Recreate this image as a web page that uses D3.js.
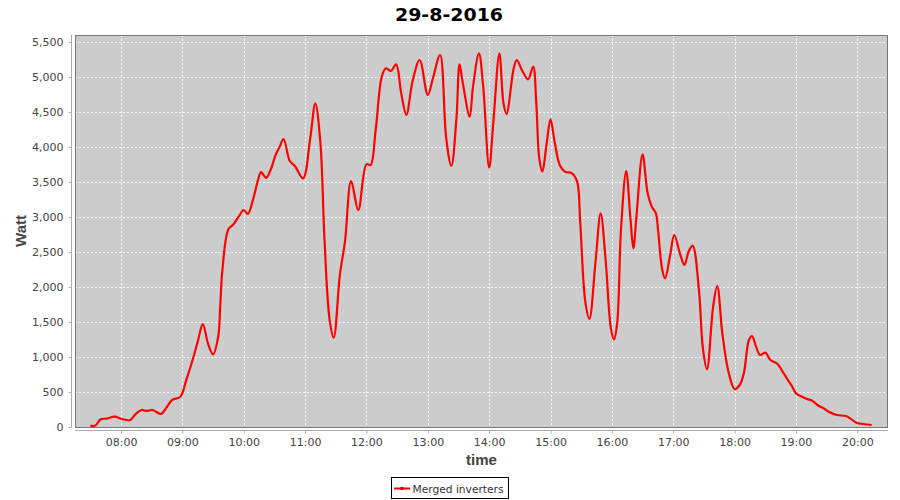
<!DOCTYPE html>
<html>
<head>
<meta charset="utf-8">
<script src="https://cdn.jsdelivr.net/npm/d3@7"></script>
<style>
  html, body { margin: 0; padding: 0; background: #ffffff; }
  svg { display: block; }
</style>
</head>
<body>
<svg id="chart" width="900" height="500"></svg>
<script>
const chartTitle = "29-8-2016";
const seriesName = "Merged inverters";
const xTitle = "time";
const yTitle = "Watt";
const yTicks = [0, 500, 1000, 1500, 2000, 2500, 3000, 3500, 4000, 4500, 5000, 5500];
const times = ["07:30","07:35","07:40","07:46","07:54","08:01","08:09","08:14","08:20","08:25","08:31","08:39","08:45","08:50","08:58","09:04","09:10","09:15","09:20","09:25","09:30","09:35","09:37","09:39","09:45","09:50","09:55","10:00","10:04","10:09","10:14","10:17","10:22","10:27","10:31","10:35","10:39","10:45","10:50","10:58","11:05","11:10","11:15","11:19","11:24","11:28","11:34","11:39","11:45","11:52","12:00","12:04","12:09","12:15","12:19","12:24","12:29","12:34","12:39","12:45","12:52","13:00","13:05","13:12","13:18","13:23","13:28","13:31","13:34","13:41","13:44","13:50","13:54","14:00","14:04","14:10","14:14","14:17","14:24","14:27","14:32","14:38","14:43","14:46","14:49","14:52","14:56","15:00","15:04","15:09","15:14","15:21","15:26","15:29","15:34","15:38","15:44","15:49","15:54","15:59","16:02","16:05","16:09","16:14","16:18","16:21","16:24","16:30","16:35","16:39","16:43","16:45","16:49","16:52","16:57","17:01","17:07","17:11","17:15","17:19","17:25","17:29","17:33","17:39","17:43","17:48","17:54","18:00","18:05","18:09","18:14","18:17","18:21","18:25","18:30","18:35","18:42","18:46","18:51","18:56","19:00","19:06","19:12","19:16","19:21","19:27","19:33","19:40","19:49","19:53","19:59","20:06","20:14"];
const watts = [20,20,110,120,147,114,100,181,243,229,243,186,290,386,433,681,957,1219,1471,1195,1038,1290,1719,2219,2824,2896,3004,3100,3043,3243,3529,3640,3560,3700,3880,4000,4114,3800,3729,3552,4124,4624,4053,2671,1529,1276,2171,2647,3514,3100,3753,3743,4243,5005,5124,5086,5181,4767,4457,4933,5243,4743,4981,5314,4124,3729,4410,5181,4933,4433,4838,5338,4886,3705,4338,5338,4624,4471,5124,5243,5100,4967,5148,4648,3838,3648,4029,4395,4076,3743,3648,3624,3505,2933,1790,1543,2362,3052,2362,1410,1252,1457,2848,3657,3004,2552,3004,3895,3338,3148,3052,2838,2267,2124,2457,2743,2457,2314,2505,2590,1981,1124,824,1719,2014,1338,790,543,600,767,1243,1300,1148,1029,1062,957,900,814,695,586,481,433,395,376,314,267,210,171,157,124,62,43,29];
const xDomain = ["07:15", "20:30"];
const yMax = 5600;

const parse = d3.timeParse("%H:%M");
const data = times.map((t, i) => ({ t: parse(t), v: watts[i] }));

const svg = d3.select("#chart");
const L = 75, R = 888, T = 35, B = 427;

const x = d3.scaleTime().domain(xDomain.map(parse)).range([L, R]);
const y = d3.scaleLinear().domain([0, yMax]).range([B, T]);

// title
svg.append("text")
  .attr("x", 449).attr("y", 20.5)
  .attr("text-anchor", "middle")
  .attr("font-family", "DejaVu Sans, sans-serif")
  .attr("font-weight", "bold").attr("font-size", 18)
  .attr("textLength", 108).attr("lengthAdjust", "spacingAndGlyphs")
  .attr("fill", "#000").text(chartTitle);

// plot background
svg.append("rect").attr("x", L).attr("y", T).attr("width", R - L).attr("height", B - T)
  .attr("fill", "#cccccc");

// grid
const hourTicks = x.ticks(d3.timeHour.every(1));
svg.append("g").selectAll("line").data(hourTicks).join("line")
  .attr("x1", d => Math.round(x(d)) + 0.5).attr("x2", d => Math.round(x(d)) + 0.5)
  .attr("y1", T).attr("y2", B)
  .attr("stroke", "#ffffff").attr("stroke-width", 1).attr("stroke-dasharray", "2,2").attr("opacity", 0.85);
svg.append("g").selectAll("line").data(yTicks.filter(d => d > 0)).join("line")
  .attr("x1", L).attr("x2", R)
  .attr("y1", d => Math.round(y(d)) + 0.5).attr("y2", d => Math.round(y(d)) + 0.5)
  .attr("stroke", "#ffffff").attr("stroke-width", 1).attr("stroke-dasharray", "2,2").attr("opacity", 0.85);

// line
const line = d3.line().x(d => x(d.t)).y(d => y(d.v)).curve(d3.curveCatmullRom.alpha(0.5));
svg.append("path").datum(data)
  .attr("d", line).attr("fill", "none")
  .attr("stroke", "#ff0000").attr("stroke-width", 2.2).attr("stroke-linejoin", "round");

// plot border
svg.append("rect").attr("x", L + 0.5).attr("y", T + 0.5).attr("width", R - L - 1).attr("height", B - T)
  .attr("fill", "none").attr("stroke", "#777777").attr("stroke-width", 1);

// y axis
const yAxis = d3.axisLeft(y).tickValues(yTicks).tickFormat(d3.format(",")).tickSize(3).tickPadding(5);
const gy = svg.append("g").attr("transform", "translate(71.5,0)").call(yAxis);
gy.select(".domain").attr("stroke", "#aaaaaa").attr("d", `M0,${T}V${B}`);
gy.selectAll(".tick line").attr("stroke", "#aaaaaa");
gy.selectAll(".tick text").attr("font-family", "DejaVu Sans, sans-serif").attr("font-size", 11).attr("fill", "#444");

// x axis
const xAxis = d3.axisBottom(x).tickValues(hourTicks).tickFormat(d3.timeFormat("%H:%M")).tickSize(3).tickPadding(5);
const gx = svg.append("g").attr("transform", "translate(0,430.5)").call(xAxis);
gx.select(".domain").attr("stroke", "#aaaaaa").attr("d", `M${L},0H${R}`);
gx.selectAll(".tick line").attr("stroke", "#aaaaaa");
gx.selectAll(".tick text").attr("font-family", "DejaVu Sans, sans-serif").attr("font-size", 11).attr("fill", "#444");

// axis titles
svg.append("text").attr("x", (L + R) / 2).attr("y", 465)
  .attr("text-anchor", "middle").attr("font-family", "Liberation Sans, sans-serif")
  .attr("font-weight", "bold").attr("font-size", 15).attr("fill", "#444").text(xTitle);
svg.append("text").attr("transform", `translate(25.5,${(T + B) / 2}) rotate(-90)`)
  .attr("text-anchor", "middle").attr("font-family", "Liberation Sans, sans-serif")
  .attr("font-weight", "bold").attr("font-size", 15).attr("fill", "#444").text(yTitle);

// legend
const lg = svg.append("g");
lg.append("rect").attr("x", 391.5).attr("y", 477.5).attr("width", 117).attr("height", 21)
  .attr("fill", "#fff").attr("stroke", "#000").attr("stroke-width", 1);
lg.append("line").attr("x1", 394).attr("x2", 410).attr("y1", 488.5).attr("y2", 488.5)
  .attr("stroke", "#ff0000").attr("stroke-width", 2);
lg.append("rect").attr("x", 400.5).attr("y", 487).attr("width", 3).attr("height", 3).attr("fill", "#cc0000");
lg.append("text").attr("x", 412.5).attr("y", 492.5)
  .attr("font-family", "DejaVu Sans, sans-serif").attr("font-size", 11).attr("fill", "#333")
  .attr("textLength", 91).attr("lengthAdjust", "spacingAndGlyphs").text(seriesName);
</script>
</body>
</html>
